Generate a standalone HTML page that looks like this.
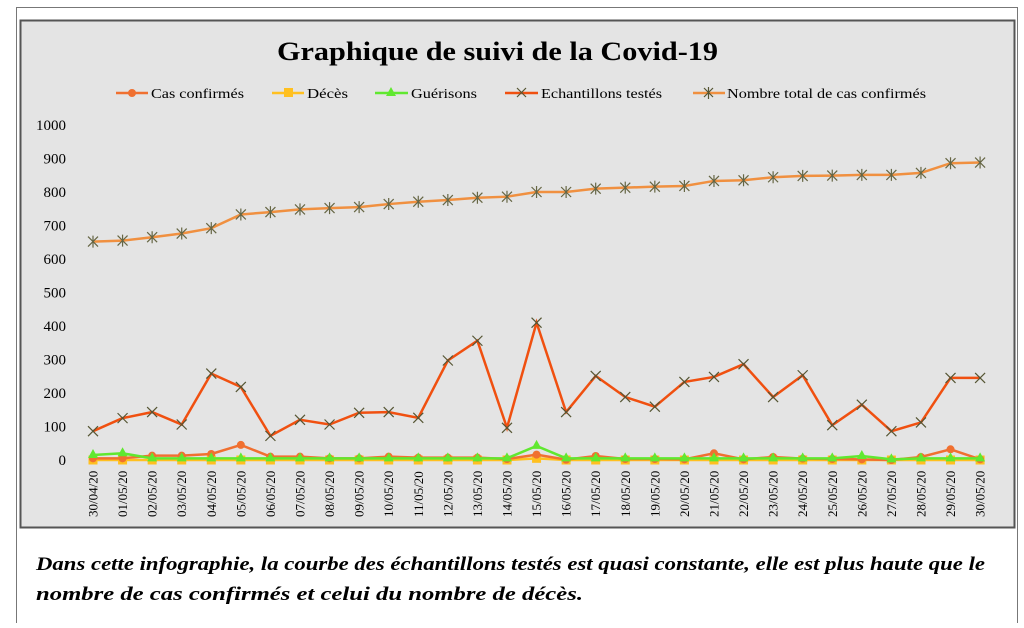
<!DOCTYPE html>
<html><head><meta charset="utf-8"><style>
body{margin:0;background:#fff;width:1024px;height:623px;overflow:hidden;font-family:"Liberation Serif",serif}
</style></head><body>
<svg width="1024" height="623" xmlns="http://www.w3.org/2000/svg" font-family="Liberation Serif, serif">
<rect x="16.5" y="7.5" width="1001" height="620" fill="#fff" stroke="#777" stroke-width="1"/>
<rect x="20.5" y="20.5" width="994" height="507" fill="#e4e4e4" stroke="#555" stroke-width="2"/>
<text x="277" y="60" font-size="26" font-weight="bold" textLength="441" lengthAdjust="spacingAndGlyphs">Graphique de suivi de la Covid-19</text>
<g font-size="14">
<line x1="116" y1="93" x2="148" y2="93" stroke="#f07030" stroke-width="2.5"/><circle cx="132" cy="93" r="4" fill="#f07030"/><text x="151" y="98" textLength="93" lengthAdjust="spacingAndGlyphs">Cas confirmés</text>
<line x1="272" y1="93" x2="304" y2="93" stroke="#ffc020" stroke-width="2.5"/><rect x="284" y="88" width="9" height="9" fill="#ffc020"/><text x="307" y="98" textLength="41" lengthAdjust="spacingAndGlyphs">Décès</text>
<line x1="375" y1="93" x2="408" y2="93" stroke="#60e830" stroke-width="2.5"/><polygon points="391,87 396,96 386,96" fill="#60e830"/><text x="411" y="98" textLength="66" lengthAdjust="spacingAndGlyphs">Guérisons</text>
<line x1="505" y1="93" x2="538" y2="93" stroke="#f05010" stroke-width="2.5"/><path d="M517,88 l9,9 M526,88 l-9,9" stroke="#553" stroke-width="1.2"/><text x="541" y="98" textLength="121" lengthAdjust="spacingAndGlyphs">Echantillons testés</text>
<line x1="693" y1="93" x2="725" y2="93" stroke="#f09040" stroke-width="2.5"/><path d="M704,88 l9,9 M713,88 l-9,9 M708.5,87 v12" stroke="#553" stroke-width="1.2"/><text x="727" y="98" textLength="199" lengthAdjust="spacingAndGlyphs">Nombre total de cas confirmés</text>
</g>
<g font-size="15" text-anchor="end" id="yl"></g>
<g id="plot"></g>
<g font-size="13" id="xl"></g>
<text x="36" y="570" font-size="18.5" font-weight="bold" font-style="italic" textLength="949" lengthAdjust="spacingAndGlyphs">Dans cette infographie, la courbe des échantillons testés est quasi constante, elle est plus haute que le</text>
<text x="36" y="600" font-size="18.5" font-weight="bold" font-style="italic" textLength="547" lengthAdjust="spacingAndGlyphs">nombre de cas confirmés et celui du nombre de décès.</text>
</svg>
<script>
const ns="http://www.w3.org/2000/svg";
const X=i=>93+i*29.57, Y=v=>460-v*0.335;
const yl=document.getElementById('yl');
for(let v=0;v<=1000;v+=100){const t=document.createElementNS(ns,'text');t.setAttribute('x',66);t.setAttribute('y',Y(v)+5);t.textContent=v;yl.appendChild(t);}
const xl=document.getElementById('xl');
const d=[];for(let i=0;i<31;i++){const day=i==0?30:i;const m=i==0?'04':'05';d.push(String(day).padStart(2,'0')+'/'+m+'/20');}
d.forEach((s,i)=>{const t=document.createElementNS(ns,'text');t.setAttribute('transform',`translate(${X(i)+4.5},517) rotate(-90)`);t.textContent=s;xl.appendChild(t);});
const total=[652,655,665,676,692,733,740,748,752,755,764,771,776,783,786,800,800,810,813,816,818,833,835,844,848,849,851,851,857,886,888];
const tested=[86,125,143,106,258,218,72,120,106,141,143,126,297,356,96,410,143,251,188,159,233,248,286,188,253,104,165,86,112,245,245];
const conf=[5,5,13,13,18,45,10,10,5,5,10,7,7,7,3,16,1,12,3,3,2,20,2,9,4,3,2,0,9,32,2];
const dec=[0,0,0,0,0,0,0,0,0,0,0,0,0,0,0,5,0,0,0,0,0,0,0,0,0,0,0,0,0,0,0];
const gue=[15,20,5,5,5,5,5,5,5,5,5,5,5,5,5,42,5,5,5,5,5,5,5,5,5,5,12,2,5,5,5];
let h='';
function line(a,c){return `<polyline fill="none" stroke="${c}" stroke-width="2.5" points="${a.map((v,i)=>X(i)+','+Y(v)).join(' ')}"/>`;}
h+=line(total,'#f09040');total.forEach((v,i)=>{const x=X(i),y=Y(v);h+=`<path d="M${x-5},${y-5}l10,10M${x+5},${y-5}l-10,10M${x},${y-6}v12" stroke="#664" stroke-width="1.2"/>`;});
h+=line(tested,'#f05010');tested.forEach((v,i)=>{const x=X(i),y=Y(v);h+=`<path d="M${x-5},${y-5}l10,10M${x+5},${y-5}l-10,10" stroke="#553" stroke-width="1.2"/>`;});
h+=line(dec,'#ffc020');dec.forEach((v,i)=>{h+=`<rect x="${X(i)-4.5}" y="${Y(v)-4.5}" width="9" height="9" fill="#ffc020"/>`;});
h+=line(conf,'#f07030');conf.forEach((v,i)=>{h+=`<circle cx="${X(i)}" cy="${Y(v)}" r="4" fill="#f07030"/>`;});
h+=line(gue,'#60e830');gue.forEach((v,i)=>{const x=X(i),y=Y(v);h+=`<polygon points="${x},${y-6} ${x+5},${y+3} ${x-5},${y+3}" fill="#60e830"/>`;});
document.getElementById('plot').innerHTML=h;
</script>
</body></html>
